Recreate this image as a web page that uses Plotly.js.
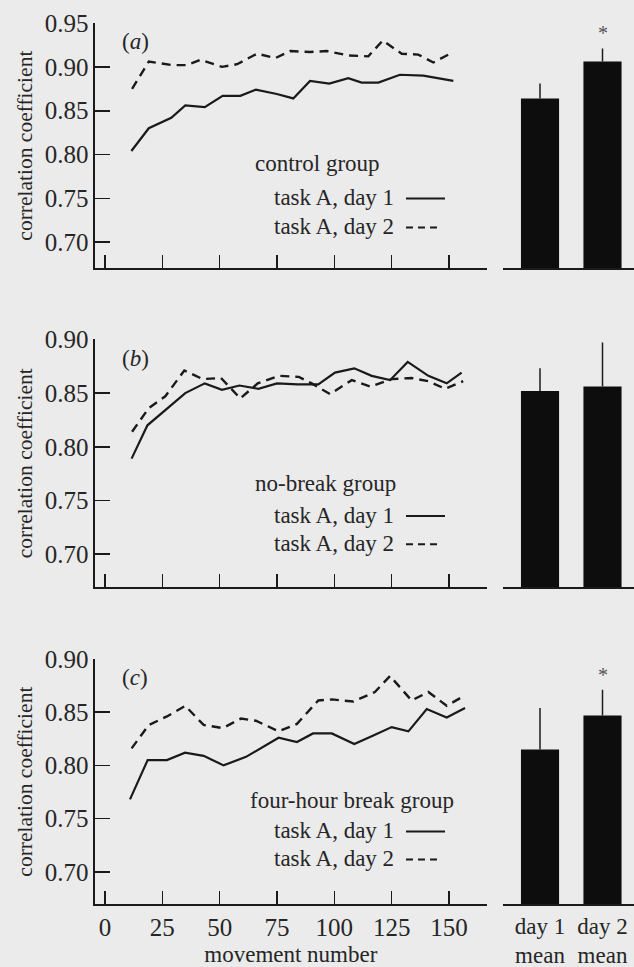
<!DOCTYPE html>
<html>
<head>
<meta charset="utf-8">
<script src="https://cdn.plot.ly/plotly-3.0.1.min.js"></script>
<style>html,body{margin:0;padding:0;background:#ebebeb;}#chart{width:634px;height:967px;}</style>
</head>
<body>
<div id="chart"></div>
<script>
// ---- data ----
const moveTicks = [0, 25, 50, 75, 100, 125, 150];
const barCats = ["day 1<br>mean", "day 2<br>mean"];

// (a) control group
const aDay1X = [11.5,19.1,28.9,35.0,43.5,51.3,59.0,65.8,74.9,82.1,89.4,97.8,106.1,111.9,119.2,128.6,138.8,151.9];
const aDay1Y = [0.804,0.830,0.842,0.856,0.854,0.867,0.867,0.874,0.869,0.864,0.884,0.881,0.887,0.882,0.882,0.891,0.890,0.884];
const aDay2X = [11.8,19.1,29.2,35.8,41.6,51.0,57.6,66.3,74.3,80.8,89.4,96.7,106.1,114.8,121.1,129.4,136.6,143.2,151.9];
const aDay2Y = [0.875,0.906,0.902,0.902,0.908,0.900,0.903,0.915,0.910,0.918,0.917,0.918,0.913,0.912,0.930,0.915,0.914,0.905,0.917];
const aMeans = [0.864, 0.906];
const aErr = [0.017, 0.015];

// (b) no-break group
const bDay1X = [11.6,18.5,35.0,43.5,51.0,58.6,66.9,75.0,84.0,93.0,100.3,108.7,116.3,124.3,132.0,141.0,149.0,155.5];
const bDay1Y = [0.789,0.820,0.850,0.859,0.853,0.857,0.854,0.859,0.858,0.858,0.869,0.873,0.866,0.862,0.879,0.866,0.859,0.869];
const bDay2X = [11.8,19.1,26.3,34.6,42.6,50.6,59.0,66.6,75.9,84.5,90.1,98.1,107.6,115.6,125.0,133.7,141.0,148.3,156.2];
const bDay2Y = [0.814,0.836,0.847,0.871,0.863,0.864,0.845,0.859,0.866,0.865,0.859,0.849,0.862,0.856,0.863,0.864,0.861,0.854,0.861];
const bMeans = [0.852, 0.856];
const bErr = [0.021, 0.041];

// (c) four-hour break group
const cDay1X = [10.9,18.6,27.0,34.9,43.0,51.7,61.5,75.7,83.7,90.7,98.9,108.7,117.0,125.0,132.3,140.3,149.0,157.0];
const cDay1Y = [0.768,0.805,0.805,0.812,0.809,0.800,0.808,0.826,0.822,0.830,0.830,0.820,0.828,0.836,0.832,0.853,0.845,0.854];
const cDay2X = [11.6,19.1,27.0,35.0,43.0,51.3,59.3,65.8,75.7,83.7,93.0,98.9,108.3,117.7,124.3,133.7,141.0,149.0,155.5];
const cDay2Y = [0.816,0.838,0.846,0.856,0.838,0.835,0.844,0.842,0.832,0.839,0.861,0.862,0.860,0.869,0.884,0.861,0.869,0.856,0.864];
const cMeans = [0.815, 0.847];
const cErr = [0.039, 0.024];

const groupNames = ["control group", "no-break group", "four-hour break group"];
const panelTags = ["(<i>a</i>)", "(<i>b</i>)", "(<i>c</i>)"];
const seriesNames = ["task A, day 1", "task A, day 2"];
const stars = [true, false, true];

// ---- styling / layout ----
const W = 634, H = 967;
const FONT = "'Liberation Serif', 'Times New Roman', serif";
const INK = "#1a1a1a";
const TXT = "#262626";
const FS = 23;
const TICKFS = 25;
const px = x => x / W;
const py = y => 1 - y / H;

const panels = [
  {d1x:aDay1X,d1y:aDay1Y,d2x:aDay2X,d2y:aDay2Y,m:aMeans,e:aErr, top:23, bot:268.3, yr:[0.6703,0.95], yt:[0.70,0.75,0.80,0.85,0.90,0.95], grp:{x:253,y:163}, t1:197.5, t2:226.5},
  {d1x:bDay1X,d1y:bDay1Y,d2x:bDay2X,d2y:bDay2Y,m:bMeans,e:bErr, top:339.3, bot:587.3, yr:[0.6693,0.90], yt:[0.70,0.75,0.80,0.85,0.90], grp:{x:253,y:483}, t1:515, t2:543.3},
  {d1x:cDay1X,d1y:cDay1Y,d2x:cDay2X,d2y:cDay2Y,m:cMeans,e:cErr, top:659, bot:904.3, yr:[0.6694,0.90], yt:[0.70,0.75,0.80,0.85,0.90], grp:{x:248,y:800}, t1:830.5, t2:858.5}
];

const traces = [];
const layout = {
  width: W, height: H,
  margin: {l:0, r:0, t:0, b:0},
  paper_bgcolor: "#ebebeb",
  plot_bgcolor: "rgba(0,0,0,0)",
  showlegend: false,
  font: {family: FONT, size: FS, color: TXT},
  annotations: [],
  shapes: []
};

const lineDom = [px(95), px(486.7)];
const barDom = [px(502.7), 1];
const xr = [(95-105)/2.2933, (486.7-105)/2.2933];

panels.forEach((p, i) => {
  const lx = 2*i + 1, bx = 2*i + 2;
  const sfx = n => n === 1 ? "" : String(n);
  const dom = [py(p.bot), py(p.top)];
  // lines
  traces.push({x:p.d1x, y:p.d1y, type:"scatter", mode:"lines", name:seriesNames[0],
    line:{color:INK, width:2.2}, xaxis:"x"+sfx(lx), yaxis:"y"+sfx(lx)});
  traces.push({x:p.d2x, y:p.d2y, type:"scatter", mode:"lines", name:seriesNames[1],
    line:{color:INK, width:2.4, dash:"9px,6px"}, xaxis:"x"+sfx(lx), yaxis:"y"+sfx(lx)});
  // bars
  traces.push({x:barCats, y:p.m, type:"bar", width:0.61, marker:{color:"#0d0d0d", line:{width:0}},
    error_y:{type:"data", symmetric:false, array:p.e, arrayminus:p.e.map(() => 0), visible:true,
      color:"#1c1c1c", thickness:1.5, width:0},
    xaxis:"x"+sfx(bx), yaxis:"y"+sfx(bx)});

  const last = i === 2;
  layout["xaxis"+sfx(lx)] = {
    domain: lineDom, anchor: "y"+sfx(lx), range: xr, showgrid:false, zeroline:false,
    showline:true, linecolor:INK, linewidth:1.6,
    ticks:"inside", ticklen:13, tickwidth:1.6, tickcolor:INK,
    tickmode:"array", tickvals: moveTicks, showticklabels: last,
    tickfont:{family:FONT, size:TICKFS, color:TXT},
    title: last ? {text:"movement number", font:{family:FONT, size:FS, color:TXT}, standoff:10} : {text:""}
  };
  layout["yaxis"+sfx(lx)] = {
    domain: dom, anchor: "x"+sfx(lx), range: p.yr, showgrid:false, zeroline:false,
    showline:true, linecolor:INK, linewidth:1.6,
    ticks:"inside", ticklen:15, tickwidth:1.6, tickcolor:INK,
    tickmode:"array", tickvals:p.yt, tickformat:".2f",
    tickfont:{family:FONT, size:TICKFS, color:TXT},
    title:{text:"correlation coefficient", font:{family:FONT, size:21.5, color:TXT}, standoff:6}
  };
  layout["xaxis"+sfx(bx)] = {
    domain: barDom, anchor: "y"+sfx(bx), type:"category", range:[-0.597, 1.504],
    showgrid:false, zeroline:false, showline:true, linecolor:INK, linewidth:1.6,
    ticks:"", showticklabels: last, tickfont:{family:FONT, size:FS, color:TXT}
  };
  layout["yaxis"+sfx(bx)] = {
    domain: dom, anchor: "x"+sfx(bx), range: p.yr, showgrid:false, zeroline:false,
    showline:false, ticks:"", showticklabels:false
  };

  // panel tag
  layout.annotations.push({xref:"paper", yref:"paper", x:px(135), y:py(p.top + 18.7),
    text:panelTags[i], showarrow:false, xanchor:"center", yanchor:"middle",
    font:{family:FONT, size:FS, color:TXT}});
  // group label + legend lines
  layout.annotations.push({xref:"paper", yref:"paper", x:px(p.grp.x), y:py(p.grp.y),
    text:groupNames[i], showarrow:false, xanchor:"left", yanchor:"middle",
    font:{family:FONT, size:FS, color:TXT}});
  [p.t1, p.t2].forEach((ty, k) => {
    layout.annotations.push({xref:"paper", yref:"paper", x:px(271.7), y:py(ty),
      text:seriesNames[k], showarrow:false, xanchor:"left", yanchor:"middle",
      font:{family:FONT, size:FS, color:TXT}});
    layout.shapes.push({type:"line", xref:"paper", yref:"paper",
      x0:px(406), x1:px(k === 0 ? 445 : 441), y0:py(ty + 1), y1:py(ty + 1),
      line:{color:INK, width:2, dash: k === 0 ? "solid" : "7px,5px"}});
  });
  // significance star
  if (stars[i]) {
    layout.annotations.push({xref:"x"+sfx(bx), yref:"y"+sfx(bx), x:barCats[1],
      y:p.m[1] + p.e[1], yshift:2, text:"*", showarrow:false, xanchor:"center", yanchor:"bottom",
      font:{family:FONT, size:20, color:"#555"}});
  }
});

Plotly.newPlot("chart", traces, layout, {staticPlot:true, displayModeBar:false});
</script>
</body>
</html>
